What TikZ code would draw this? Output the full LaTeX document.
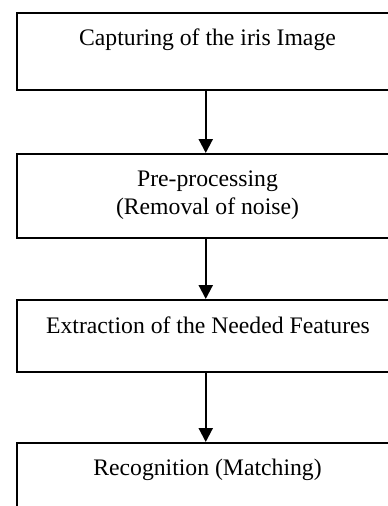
\documentclass[tikz,border=0pt]{standalone}
\usepackage{fontspec}
\setmainfont{Liberation Serif}
\usetikzlibrary{arrows.meta}
\begin{document}
\begin{tikzpicture}[x=1pt,y=1pt,
  box/.style={draw, line width=1.5pt, rectangle, inner sep=0pt, minimum width=384pt, anchor=north west},
  lbl/.style={font=\fontsize{23.7}{28}\selectfont, inner sep=0pt, anchor=base, align=center},
  flow/.style={line width=2.2pt, -{Triangle[length=14pt,width=14pt]}}]
\useasboundingbox (0,0) rectangle (388,-506);
\clip (0,0) rectangle (388,-506);
\node[box, minimum height=77pt] (b1) at (16,-12) {};
\node[box, minimum height=84pt] (b2) at (16,-153) {};
\node[box, minimum height=72pt] (b3) at (16,-299) {};
\node[box, minimum height=88pt] (b4) at (16,-442) {};
\node[lbl] (t1) at (207.5,-45) {Capturing of the iris Image};
\node[lbl] (t2) at (207.5,-214) {Pre-processing\\(Removal of noise)};
\node[lbl] (t3) at (208,-333) {Extraction of the Needed Features};
\node[lbl] (t4) at (207.5,-475) {Recognition (Matching)};
\draw[flow] ([xshift=-3pt]b1.south) -- ([xshift=-3pt]b2.north);
\draw[flow] ([xshift=-3pt]b2.south) -- ([xshift=-3pt]b3.north);
\draw[flow] ([xshift=-3pt]b3.south) -- ([xshift=-3pt]b4.north);
\end{tikzpicture}
\end{document}
